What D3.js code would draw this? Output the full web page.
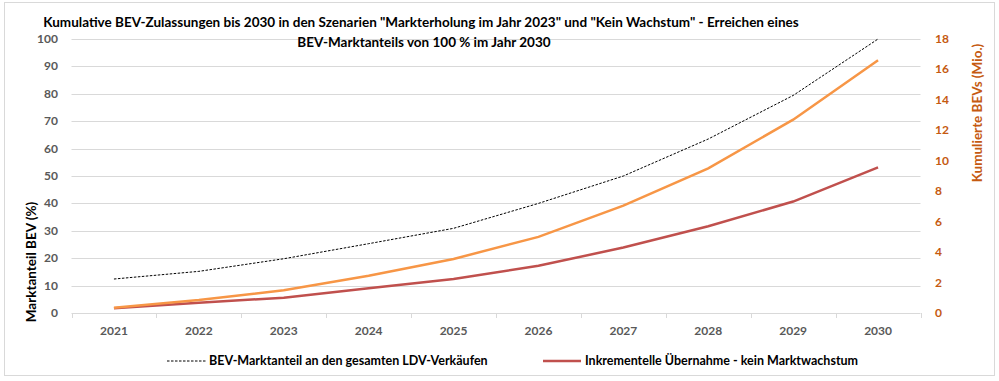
<!DOCTYPE html>
<html>
<head>
<meta charset="utf-8">
<script src="https://cdn.jsdelivr.net/npm/d3@7"></script>
<style>
	body { margin: 0; background: #fff; }
	text { font-family: Lato, "Open Sans", sans-serif; }
</style>
</head>
<body>
<div id="chart"></div>
<script>
// data
var years = ["2021", "2022", "2023", "2024", "2025", "2026", "2027", "2028", "2029", "2030"];
var shareBEV = [12.4, 15.2, 19.8, 25.3, 30.9, 40, 50, 63.5, 79.4, 100];        // % (left axis)
var markterholung = [0.35, 0.85, 1.5, 2.45, 3.55, 5.0, 7.05, 9.5, 12.7, 16.6];  // Mio. (right axis)
var keinWachstum = [0.31, 0.68, 1.0, 1.62, 2.23, 3.1, 4.3, 5.7, 7.32, 9.57];    // Mio. (right axis)
var leftTicks = [0, 10, 20, 30, 40, 50, 60, 70, 80, 90, 100];
var rightTicks = [0, 2, 4, 6, 8, 10, 12, 14, 16, 18];

function drawChart() {
	var w = 999, h = 381;
	var m = { left: 71.5, right: 920.5, top: 39, bottom: 313 };

	var svg = d3.select("#chart").append("svg")
		.attr("width", w)
		.attr("height", h);

	// chart border
	svg.append("rect")
		.attr("x", 4.5).attr("y", 2.5)
		.attr("width", 990).attr("height", 373)
		.attr("fill", "#fff")
		.attr("stroke", "#d9d9d9");

	var x = d3.scaleBand().domain(years).range([m.left, m.right]);
	var yL = d3.scaleLinear().domain([0, 100]).range([m.bottom, m.top]);
	var yR = d3.scaleLinear().domain([0, 18]).range([m.bottom, m.top]);

	//gridlines
	svg.append("g")
		.selectAll("line")
		.data(leftTicks.slice(1))
		.enter().append("line")
		.attr("x1", m.left).attr("x2", m.right)
		.attr("y1", function (d) { return Math.round(yL(d)) + 0.5; })
		.attr("y2", function (d) { return Math.round(yL(d)) + 0.5; })
		.attr("stroke", "#d9d9d9");

	// x axis line + ticks between categories
	svg.append("line")
		.attr("x1", m.left).attr("x2", m.right)
		.attr("y1", m.bottom + 0.5).attr("y2", m.bottom + 0.5)
		.attr("stroke", "#d9d9d9");
	svg.append("g")
		.selectAll("line")
		.data(d3.range(years.length + 1))
		.enter().append("line")
		.attr("x1", function (d) { return Math.round(m.left + d * x.step()) + 0.5; })
		.attr("x2", function (d) { return Math.round(m.left + d * x.step()) + 0.5; })
		.attr("y1", m.bottom).attr("y2", m.bottom + 5)
		.attr("stroke", "#d9d9d9");

	// left axis labels
	svg.append("g")
		.selectAll("text")
		.data(leftTicks)
		.enter().append("text")
		.attr("x", 58)
		.attr("y", function (d) { return yL(d) + 4; })
		.attr("text-anchor", "end")
		.attr("font-size", 12)
		.attr("font-weight", "bold")
		.attr("fill", "#595959")
		.text(function (d) { return d; });

	// right axis labels
	svg.append("g")
		.selectAll("text")
		.data(rightTicks)
		.enter().append("text")
		.attr("x", 935)
		.attr("y", function (d) { return yR(d) + 4; })
		.attr("font-size", 12)
		.attr("font-weight", "bold")
		.attr("fill", "#c55a11")
		.text(function (d) { return d; });

	// x labels
	svg.append("g")
		.selectAll("text")
		.data(years)
		.enter().append("text")
		.attr("x", function (d) { return x(d) + x.bandwidth() / 2; })
		.attr("y", 335)
		.attr("text-anchor", "middle")
		.attr("font-size", 12)
		.attr("font-weight", "bold")
		.attr("fill", "#595959")
		.text(function (d) { return d; });

	// axis titles
	svg.append("text")
		.attr("transform", "translate(36,262) rotate(-90)")
		.attr("text-anchor", "middle")
		.attr("font-size", 13.5)
		.attr("font-weight", "bold")
		.attr("fill", "#000")
		.text("Marktanteil BEV (%)");

	svg.append("text")
		.attr("transform", "translate(982,113) rotate(-90)")
		.attr("text-anchor", "middle")
		.attr("font-size", 13.5)
		.attr("font-weight", "bold")
		.attr("fill", "#c55a11")
		.text("Kumulierte BEVs (Mio.)");

	// title
	var title = svg.append("text")
		.attr("text-anchor", "middle")
		.attr("font-size", 13.5)
		.attr("font-weight", "bold")
		.attr("fill", "#000");
	title.append("tspan")
		.attr("x", 421).attr("y", 27)
		.text("Kumulative BEV-Zulassungen bis 2030 in den Szenarien \"Markterholung im Jahr 2023\" und \"Kein Wachstum\" - Erreichen eines");
	title.append("tspan")
		.attr("x", 424).attr("y", 47)
		.text("BEV-Marktanteils von 100 % im Jahr 2030");

	// lines
	function cx(i) { return x(years[i]) + x.bandwidth() / 2; }

	var lineL = d3.line()
		.x(function (d, i) { return cx(i); })
		.y(function (d) { return yL(d); });
	var lineR = d3.line()
		.x(function (d, i) { return cx(i); })
		.y(function (d) { return yR(d); });

	svg.append("path")
		.datum(keinWachstum)
		.attr("d", lineR)
		.attr("fill", "none")
		.attr("stroke", "#c0504d")
		.attr("stroke-width", 2.5);

	svg.append("path")
		.datum(markterholung)
		.attr("d", lineR)
		.attr("fill", "none")
		.attr("stroke", "#f79646")
		.attr("stroke-width", 2.5);

	svg.append("path")
		.datum(shareBEV)
		.attr("d", lineL)
		.attr("fill", "none")
		.attr("stroke", "#000")
		.attr("stroke-width", 1)
		.attr("stroke-dasharray", "2.5,1.5");

	// legend
	svg.append("line")
		.attr("x1", 167).attr("x2", 206)
		.attr("y1", 361).attr("y2", 361)
		.attr("stroke", "#000")
		.attr("stroke-dasharray", "2.5,1.5");
	svg.append("text")
		.attr("x", 209).attr("y", 365)
		.attr("font-size", 12.5)
		.attr("font-weight", "bold")
		.text("BEV-Marktanteil an den gesamten LDV-Verkäufen");

	svg.append("line")
		.attr("x1", 543).attr("x2", 581)
		.attr("y1", 361).attr("y2", 361)
		.attr("stroke", "#c0504d")
		.attr("stroke-width", 2.5);
	svg.append("text")
		.attr("x", 585).attr("y", 365)
		.attr("font-size", 12.5)
		.attr("font-weight", "bold")
		.text("Inkrementelle Übernahme - kein Marktwachstum");
}

drawChart();
</script>
</body>
</html>
